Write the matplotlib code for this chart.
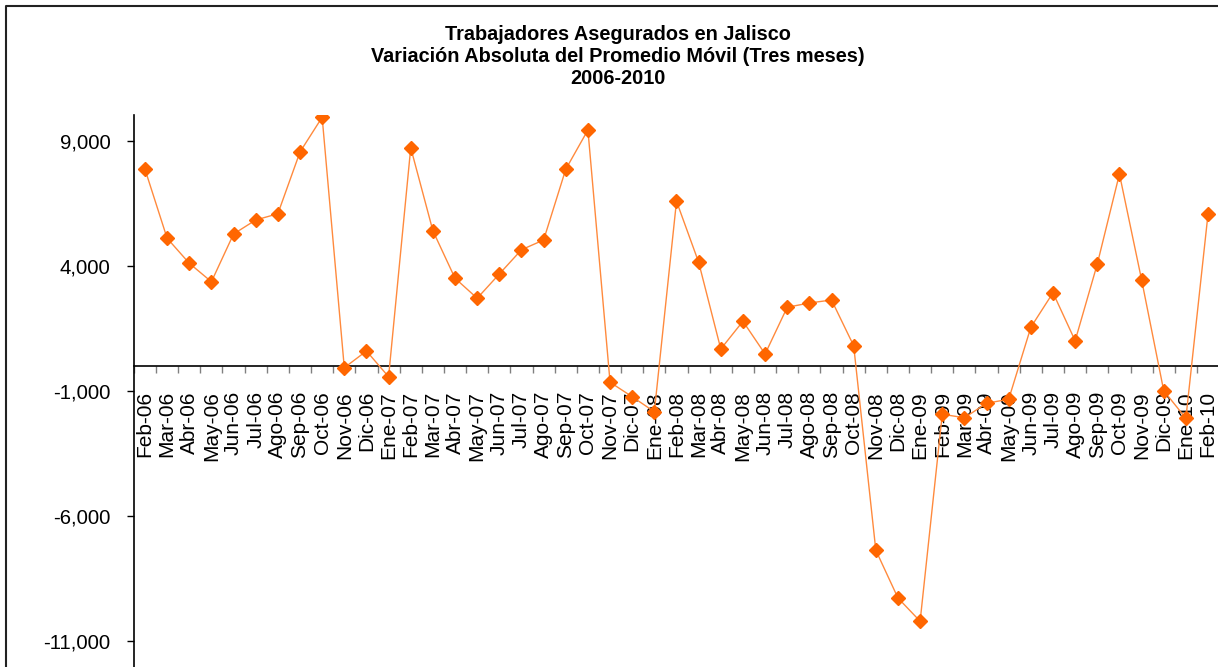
import matplotlib
matplotlib.use("Agg")
import matplotlib.pyplot as plt
from matplotlib.lines import Line2D
import numpy as np

plt.rcParams['font.family'] = ['Liberation Sans', 'DejaVu Sans']

months = ["Feb-06", "Mar-06", "Abr-06", "May-06", "Jun-06", "Jul-06", "Ago-06", "Sep-06", "Oct-06", "Nov-06", "Dic-06",
          "Ene-07", "Feb-07", "Mar-07", "Abr-07", "May-07", "Jun-07", "Jul-07", "Ago-07", "Sep-07", "Oct-07", "Nov-07", "Dic-07",
          "Ene-08", "Feb-08", "Mar-08", "Abr-08", "May-08", "Jun-08", "Jul-08", "Ago-08", "Sep-08", "Oct-08", "Nov-08", "Dic-08",
          "Ene-09", "Feb-09", "Mar-09", "Abr-09", "May-09", "Jun-09", "Jul-09", "Ago-09", "Sep-09", "Oct-09", "Nov-09", "Dic-09",
          "Ene-10", "Feb-10"]
values = [7870, 5110, 4110, 3370, 5280, 5840, 6090, 8560, 9950, -70, 600,
          -430, 8730, 5410, 3510, 2710, 3680, 4650, 5040, 7870, 9440, -650, -1230,
          -1830, 6590, 4150, 680, 1790, 480, 2350, 2520, 2640, 810, -7370, -9280,
          -10210, -1930, -2070, -1490, -1330, 1550, 2930, 1010, 4080, 7680, 3450, -990,
          -2090, 6080]
yticks = [-11000, -6000, -1000, 4000, 9000]
title_lines = ["Trabajadores Asegurados en Jalisco",
               "Variación Absoluta del Promedio Móvil (Tres meses)",
               "2006-2010"]

W, H = 1218, 667
fig = plt.figure(figsize=(W / 100, H / 100), dpi=100)
left = 133.9 / W
right = 1219.1 / W
top = 1 - 115 / H
ax = fig.add_axes([left, 0, right - left, top])

x = np.arange(len(months))
ax.plot(x, values, color='#FF8A3D', lw=1.0, marker='D', markersize=7,
        markerfacecolor='#FF6600', markeredgecolor='#FF6600', zorder=3)

ax.set_xlim(-0.5, len(months) - 0.5)
ax.set_ylim(-12040, 10040)

for s in ['top', 'right']:
    ax.spines[s].set_visible(False)
ax.spines['bottom'].set_position(('data', 0))
ax.spines['bottom'].set_linewidth(1.2)
ax.spines['left'].set_linewidth(1.2)

ax.set_yticks(yticks)
ax.set_yticklabels([f"{v:,}" for v in yticks], fontsize=14.7)
ax.tick_params(axis='y', direction='out', length=5, width=1, pad=12)

ax.set_xticks(x)
ax.set_xticklabels(months, rotation=90, fontsize=15)
ax.tick_params(axis='x', which='major', length=0, pad=18)
ax.set_xticks(np.arange(-0.5, len(months), 1.0), minor=True)
ax.tick_params(axis='x', which='minor', direction='out', length=5, width=1, color='#808080')

fig.text(0.507, 1 - 25 / H, "\n".join(title_lines), ha='center', va='top',
         fontsize=14.3, fontweight='bold', linespacing=1.2)

fig.add_artist(Line2D([6 / W, 6 / W, 1], [0, 1 - 6 / H, 1 - 6 / H],
                      transform=fig.transFigure, color='#222222', lw=1.5))

fig.savefig("out.png", dpi=100)
